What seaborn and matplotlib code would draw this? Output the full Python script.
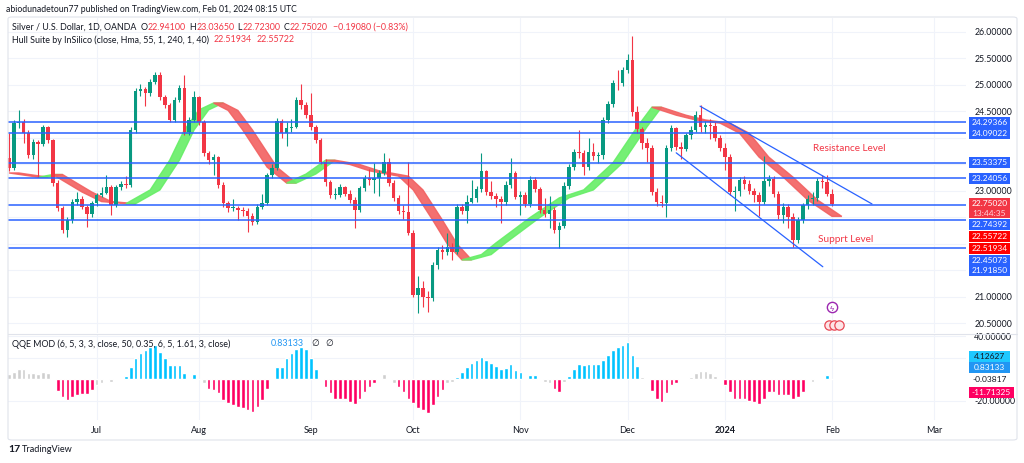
import numpy as np
import pandas as pd
import matplotlib
matplotlib.use("Agg")
import matplotlib.pyplot as plt
from matplotlib.patches import Rectangle, FancyBboxPatch
import seaborn as sns

# XAGUSD daily (OANDA)
first_open = 23.62
closes = [23.43, 24.28, 24.30, 24.09, 23.68, 23.92, 23.88, 24.20, 23.96, 23.15,
          22.68, 22.26, 22.45, 22.79, 22.85, 22.70, 22.57, 22.77, 22.92, 22.97,
          23.08, 22.74, 23.08, 23.13, 23.12, 24.15, 24.89, 24.92, 24.84, 25.06,
          25.19, 24.77, 24.62, 24.34, 24.72, 24.94, 24.11, 24.34, 24.77, 24.30,
          23.71, 23.58, 23.64, 23.11, 22.77, 22.68, 22.68, 22.65, 22.62, 22.53,
          22.42, 22.70, 22.77, 23.30, 23.43, 24.32, 24.09, 24.19, 24.21, 24.72,
          24.62, 24.43, 24.21, 23.96, 23.55, 23.17, 22.92, 22.92, 23.08, 22.95,
          22.83, 22.64, 23.06, 23.24, 23.20, 23.25, 23.34, 23.55, 23.15, 22.87,
          22.62, 22.60, 22.21, 21.04, 21.16, 21.00, 20.98, 21.60, 21.89, 21.85,
          21.95, 21.85, 22.70, 22.62, 22.80, 22.86, 23.04, 23.37, 22.98, 22.90,
          22.85, 22.79, 23.11, 23.34, 22.89, 22.93, 22.75, 23.21, 23.04, 22.64,
          22.56, 22.65, 22.27, 22.34, 23.10, 23.45, 23.74, 23.72, 23.46, 23.73,
          23.66, 23.67, 24.34, 24.64, 25.04, 25.03, 25.28, 25.47, 24.49, 24.17,
          23.91, 23.81, 22.98, 22.79, 22.77, 23.81, 24.19, 23.83, 23.80, 24.05,
          24.16, 24.43, 24.21, 24.25, 24.22, 24.00, 23.81, 23.64, 22.98, 23.00,
          23.21, 23.13, 23.00, 22.92, 22.80, 23.19, 23.23, 22.94, 22.55, 22.70,
          22.51, 22.08, 22.45, 22.73, 22.85, 22.86, 23.19, 23.16, 22.941, 22.7502]
highs = [24.09, 24.34, 24.53, 24.36, 24.16, 23.98, 23.97, 24.24, 24.22, 23.98,
         23.20, 22.72, 22.50, 22.84, 22.98, 22.90, 22.74, 22.82, 22.96, 23.08,
         23.30, 23.12, 23.12, 23.18, 23.28, 24.20, 24.95, 25.02, 24.96, 25.12,
         25.25, 25.25, 24.82, 24.66, 24.78, 25.00, 25.19, 24.40, 24.88, 24.80,
         24.34, 23.76, 23.70, 23.66, 23.16, 22.82, 22.84, 22.72, 22.70, 22.68,
         22.58, 22.76, 22.95, 23.34, 23.50, 24.38, 24.36, 24.30, 24.35, 24.78,
         25.02, 24.68, 24.85, 24.25, 24.00, 23.60, 23.20, 23.06, 23.14, 23.10,
         23.02, 22.88, 23.10, 23.30, 23.42, 23.52, 23.40, 23.72, 23.62, 23.20,
         22.92, 22.74, 23.55, 22.26, 21.40, 21.30, 21.12, 21.66, 21.95, 21.98,
         22.20, 22.02, 22.76, 22.76, 22.92, 23.20, 23.10, 23.72, 23.40, 23.18,
         22.96, 22.90, 23.18, 23.62, 23.38, 23.00, 22.98, 23.28, 23.26, 23.08,
         22.86, 22.90, 22.70, 22.42, 23.16, 23.50, 23.80, 24.15, 23.78, 24.00,
         23.90, 23.74, 24.40, 24.70, 25.10, 25.28, 25.34, 25.58, 25.92, 24.60,
         24.20, 24.00, 23.86, 23.05, 22.92, 23.86, 24.24, 24.20, 23.92, 24.10,
         24.22, 24.50, 24.62, 24.32, 24.36, 24.30, 24.05, 23.90, 23.70, 23.10,
         23.26, 23.28, 23.20, 23.06, 22.98, 23.66, 23.30, 23.28, 23.00, 22.78,
         22.76, 22.58, 22.50, 22.78, 22.92, 22.98, 23.24, 23.30, 23.30, 23.0365]
lows = [23.38, 23.40, 24.18, 23.90, 23.62, 23.60, 23.26, 23.84, 23.90, 23.10,
        22.62, 22.20, 22.13, 22.40, 22.74, 22.66, 22.32, 22.50, 22.72, 22.88,
        22.94, 22.55, 22.70, 23.02, 23.06, 23.08, 24.10, 24.80, 24.60, 24.80,
        25.02, 24.72, 24.56, 24.30, 24.30, 24.68, 24.06, 24.05, 24.30, 24.24,
        23.66, 23.50, 23.30, 23.06, 22.70, 22.60, 22.62, 22.45, 22.52, 22.23,
        22.36, 22.38, 22.66, 22.74, 23.25, 23.40, 24.00, 23.85, 24.12, 24.18,
        24.55, 24.38, 24.16, 23.90, 23.50, 23.10, 22.86, 22.84, 22.88, 22.90,
        22.78, 22.30, 22.60, 23.00, 23.12, 22.96, 22.90, 23.30, 23.10, 22.82,
        22.56, 22.48, 22.16, 21.00, 20.70, 20.82, 20.72, 20.92, 21.52, 21.72,
        21.80, 21.70, 21.82, 22.56, 22.40, 22.78, 22.80, 22.98, 22.92, 22.84,
        22.70, 22.40, 22.74, 23.05, 22.84, 22.54, 22.70, 22.70, 22.98, 22.58,
        22.50, 22.30, 22.20, 21.92, 22.30, 23.04, 23.40, 23.62, 23.30, 23.40,
        23.58, 23.52, 23.60, 24.28, 24.58, 24.90, 24.98, 25.22, 24.42, 24.10,
        23.80, 23.55, 22.92, 22.72, 22.70, 22.50, 23.76, 23.78, 23.60, 23.76,
        23.98, 24.12, 24.12, 24.10, 23.98, 23.95, 23.76, 23.40, 22.92, 22.62,
        22.90, 23.04, 22.94, 22.80, 22.52, 22.76, 23.10, 22.88, 22.48, 22.40,
        22.30, 21.94, 22.02, 22.40, 22.66, 22.74, 22.82, 23.06, 22.90, 22.723]

# horizontal levels drawn on the chart
levels = [24.29366, 24.09022, 23.53375, 23.24056, 22.74392, 22.45073, 21.91850]

# Hull Suite (55) band, read at a set of bars
hull_bars = [0, 6, 9, 15, 19, 24, 29, 33, 36, 39, 42, 45, 48, 53, 57, 61, 65, 70, 74, 80,
             83, 87, 90, 93, 97, 100, 107, 113, 118, 124, 129, 132, 137, 141, 146, 150, 154, 159, 164, 169]
hull_vals = [23.34, 23.26, 23.31, 22.98, 22.80, 22.76, 23.02, 23.58, 24.15, 24.53, 24.66, 24.52,
             24.15, 23.45, 23.15, 23.32, 23.58, 23.50, 23.38, 23.28, 23.02, 22.45, 22.00, 21.70,
             21.80, 22.02, 22.50, 22.87, 23.02, 23.53, 24.21, 24.58, 24.43, 24.34, 24.28, 24.09,
             23.64, 23.26, 22.83, 22.52]

# QQE MOD histogram and its colour state (b = up, r = down, g = neutral)
qqe_vals = [5, 7, 10, 10, 6, 6, 5, 7, 6, 0,
            -10.4, -16, -19, -16, -14.6, -13.6, -13.6, -10, -5, -3.5,
            0, -2, 0, 0, 3.3, 12, 20, 25, 27, 30,
            32, 26, 20, 13, 13, 13.5, 5.6, 0, 5, 0,
            -3, -8.4, -10, -13, -19, -21.7, -24, -26, -27, -28.5,
            -30, -26, -19, -8.4, 0, 12, 12, 20, 25, 28,
            30, 28, 20, 10, 0, -7, -13, -18, -18, -18,
            -21, -23, -18, -11.5, -7, -3.6, 0, 5, 0, -3,
            -7, -11.5, -18, -22, -27, -28, -31, -24, -16, -10,
            -3.5, -2, 2.5, 7, 12, 15, 18, 21, 18, 15.5,
            12.4, 10, 11, 14, 8.7, 7, 0, 4.6, 4.6, 0,
            -2, -3.5, -9.3, -12, -2, 3.4, 10, 14, 13.5, 14,
            14, 14, 18, 23, 27, 30, 32, 34.4, 23, 12.4,
            2, 0, -10.5, -18, -21, -13, -5, -3, 0, 0,
            2.5, 6, 7.5, 7.5, 6, 3, 0, -5, -11.5, -18,
            -18.6, -18.6, -20, -21, -23, -18, -11.5, -11.5, -14.6, -14.6,
            -14.6, -18.6, -16, -11.5, 0, -2, 0, 0, 4.13, 0.83]
qqe_state = ("gggggggggg" "rrrrrrrrgg" "ggggbbbbbb" "bbbbbbbgbg" "grrrrrrrrr"
             "rrrrgbbbbb" "bbbbgrrrrr" "rrrrrrgggg" "rrrrrrrrrr" "ggbbbbbbbb"
             "bbbbbbgbbg" "ggrrgbbbbb" "bbbbbbbbbb" "ggrrrrrrgg" "gggggggrrr"
             "rrrrrrrrrr" "rrrrggggbb")

month_starts = ["2023-07-01", "2023-08-01", "2023-09-01", "2023-10-01", "2023-11-01",
                "2023-12-01", "2024-01-01", "2024-02-01", "2024-03-01"]
month_names = ["Jul", "Aug", "Sep", "Oct", "Nov", "Dec", "2024", "Feb", "Mar"]

# price scale ticks; the ones hidden behind tags get no label
price_ticks = [20.5, 21.0, 21.5, 22.0, 22.5, 23.0, 23.5, 24.0, 24.5, 25.0, 25.5, 26.0]
price_shown = [20.5, 21.0, 23.0, 24.5, 25.0, 25.5, 26.0]

# drawn channel (bar position, price)
res_x, res_y = [141.9, 177.2], [24.60, 22.755]
sup_x, sup_y = [137.0, 167.1], [23.72, 21.57]

# ---------------------------------------------------------------
W, H = 1024, 463
DARK = "#131722"
BLUE = "#2962ff"
RED = "#f23645"

sns.set_theme(style="white")
plt.rcParams["font.family"] = ["Lato", "DejaVu Sans"]

dates = pd.bdate_range("2023-06-07", "2024-03-08")
dates = dates[~dates.isin(pd.to_datetime(["2023-12-25", "2024-01-01"]))]
month_pos = [int(np.searchsorted(dates, pd.Timestamp(m))) for m in month_starts]

n = len(closes)
x = np.arange(n)
c = np.array(closes)
o = np.r_[first_open, c[:-1]]
col = np.where(c >= o, "#089981", RED)

fig = plt.figure(figsize=(W / 100, H / 100), dpi=100)
fig.patch.set_facecolor("white")


def frac_box(l, t, r, b):
    return [l / W, 1 - b / H, (r - l) / W, (b - t) / H]


ax = fig.add_axes(frac_box(8, 18, 966, 333))
ax2 = fig.add_axes(frac_box(8, 334, 966, 420))
xlim = (-0.2, 196.5)

# --- main panel -------------------------------------------------
ax.vlines(x, lows, highs, colors=col, lw=0.8, zorder=3)
ax.bar(x, np.maximum(np.abs(c - o), 0.015), bottom=np.minimum(o, c), width=0.72,
       color=col, lw=0, zorder=4)

hb = np.array(hull_bars, float)
hv = np.array(hull_vals)
d = np.sign(np.diff(hv))
start = 0
for k in range(1, len(d) + 1):
    if k == len(d) or d[k] != d[start]:
        xs, ys = hb[start:k + 1], hv[start:k + 1]
        fc = "#66ee66" if d[start] > 0 else "#f26060"
        ax.fill(np.r_[xs, xs[::-1] + 2], np.r_[ys, ys[::-1]], color=fc, ec=fc,
                lw=1.0, alpha=0.9, zorder=2)
        start = k

ax.hlines(levels, xlim[0], xlim[1], color=BLUE, lw=1.1, zorder=5)
sns.lineplot(x=res_x, y=res_y, ax=ax, color=BLUE, lw=0.9, zorder=5)
sns.lineplot(x=sup_x, y=sup_y, ax=ax, color=BLUE, lw=0.9, zorder=5)
ax.text(165.1, 23.81, "Resistance Level", color=RED, fontsize=7.2, va="center", zorder=6)
ax.text(166.1, 22.08, "Supprt Level", color=RED, fontsize=7.2, va="center", zorder=6)

# small event icons at the last bar
ax.scatter([n - 1], [20.81], s=55, facecolor="white", edgecolor="#9c27b0", lw=1, zorder=6)
ax.text(n - 1, 20.81, "ϟ", color="#9c27b0", fontsize=6, ha="center", va="center", zorder=7)
ax.scatter([n - 1.6, n - 0.6, n + 0.4], [20.47] * 3, s=45, facecolor="#fde4e6",
           edgecolor="#e84855", lw=0.9, zorder=6)

ax.set_xlim(*xlim)
ax.set_ylim(20.32, 26.264)
ax.set_xticks(month_pos)
ax.set_yticks(price_ticks)
ax.yaxis.tick_right()
ax.set_yticklabels([f"{v:.5f}" if v in price_shown else "" for v in price_ticks],
                   fontsize=6.3, color=DARK)
ax.tick_params(axis="y", length=0, pad=6)
ax.tick_params(axis="x", length=0, labelbottom=False)
ax.grid(True, color="#f0f3fa", lw=0.8)
ax.set_xlabel("")
ax.set_ylabel("")
for s in ax.spines.values():
    s.set_visible(False)

# --- QQE panel --------------------------------------------------
qdf = pd.DataFrame({"bar": x, "val": qqe_vals, "state": list(qqe_state)})
sns.barplot(data=qdf, x="bar", y="val", hue="state", native_scale=True, dodge=False,
            palette={"b": "#00c3ff", "r": "#ff0062", "g": "#cfcfcf"}, width=0.75,
            saturation=1, errorbar=None, legend=False, ax=ax2)
ax2.set_xlim(*xlim)
ax2.set_ylim(-37.7, 42.3)
ax2.yaxis.tick_right()
ax2.set_yticks([40, 20, -20])
ax2.set_yticklabels(["40.00000", "", "-20.00000"], fontsize=6.3, color=DARK)
ax2.set_xticks(month_pos)
ax2.set_xticklabels(month_names, fontsize=6.5, color=DARK)
ax2.get_xticklabels()[6].set_fontweight("bold")
ax2.tick_params(axis="y", length=0, pad=6)
ax2.tick_params(axis="x", length=0, pad=4)
ax2.grid(True, color="#f0f3fa", lw=0.8)
ax2.set_axisbelow(True)
ax2.set_xlabel("")
ax2.set_ylabel("")
for s in ax2.spines.values():
    s.set_visible(False)

# --- frame and separators -------------------------------------
fig.patches.append(FancyBboxPatch((8 / W, 1 - 440 / H), 1009 / W, 423 / H,
                                  boxstyle="round,pad=0,rounding_size=0.004",
                                  transform=fig.transFigure, fill=False,
                                  ec="#e0e3eb", lw=0.8, zorder=1))
fig.add_artist(plt.Line2D([8 / W, 1017 / W], [1 - 333.5 / H] * 2, color="#e0e3eb", lw=0.8))


# --- price tags on the right scales ---------------------------
def py_of(axis, v):
    return H - axis.transData.transform((0, v))[1]


def tag(py, text, fc, tc="white", w=41, h=11, x0=969):
    fig.patches.append(Rectangle((x0 / W, 1 - (py + h / 2) / H), w / W, h / H,
                                 transform=fig.transFigure, fc=fc, ec="none", zorder=5))
    fig.text((x0 + w / 2) / W, 1 - py / H, text, ha="center", va="center",
             color=tc, fontsize=6.0, zorder=6)


main_tags = [(24.29366, BLUE, 0), (24.09022, BLUE, 0), (23.53375, BLUE, 0), (23.24056, BLUE, 0),
             (22.74392, BLUE, 20), (22.55722, "#ff0000", 22.5), (22.51934, "#ff0000", 32.5),
             (22.45073, BLUE, 40), (21.91850, BLUE, 22.6)]
for v, fc, nudge in main_tags:
    tag(py_of(ax, v) + nudge, f"{v:.5f}", fc)

# current price with countdown
pc = py_of(ax, 22.75020) + 4
fig.patches.append(Rectangle((969 / W, 1 - (pc + 10) / H), 41 / W, 20 / H,
                             transform=fig.transFigure, fc=RED, ec="none", zorder=5))
fig.text(989.5 / W, 1 - (pc - 4.5) / H, "22.75020", ha="center", va="center",
         color="white", fontsize=6.0, zorder=6)
fig.text(989.5 / W, 1 - (pc + 5) / H, "13:44:35", ha="center", va="center",
         color="#ffd6da", fontsize=6.0, zorder=6)

tag(py_of(ax2, 4.12627) - 19, "4.12627", "#1ec8ff", tc=DARK)
tag(py_of(ax2, 0.83133) - 10.6, "0.83133", "#2196f3")
fig.text(989.5 / W, 1 - py_of(ax2, -0.03817) / H, "-0.03817", ha="center", va="center",
         color=DARK, fontsize=6.0, zorder=6)
tag(py_of(ax2, -11.71325), "-11.71325", "#ff0062", w=45)

# --- header and legends ---------------------------------------
renderer = fig.canvas.get_renderer()


def pieces(px, py, parts, size=6.4):
    for txt, color, gap in parts:
        t = fig.text(px / W, 1 - py / H, txt, color=color, fontsize=size, va="center", ha="left")
        px += t.get_window_extent(renderer).width + gap


fig.text(6 / W, 1 - 10 / H, "abiodunadetoun77 published on TradingView.com, Feb 01, 2024 08:15 UTC",
         fontsize=6.2, color=DARK, va="center")
pieces(12, 27, [("Silver / U.S. Dollar, 1D, OANDA", DARK, 4),
                ("O", DARK, 0.5), ("22.94100", RED, 3), ("H", DARK, 0.5), ("23.03650", RED, 3),
                ("L", DARK, 0.5), ("22.72300", RED, 3), ("C", DARK, 0.5), ("22.75020", RED, 5),
                ("−0.19080 (−0.83%)", RED, 0)])
pieces(12, 40, [("Hull Suite by InSilico (close, Hma, 55, 1, 240, 1, 40)", DARK, 5),
                ("22.51934", RED, 4), ("22.55722", RED, 0)])
pieces(12, 344, [("QQE MOD (6, 5, 3, 3, close, 50, 0.35, 6, 5, 1.61, 3, close)", DARK, 40),
                 ("0.83133", "#2196f3", 8), ("∅", DARK, 6), ("∅", DARK, 0)])
pieces(8, 450, [("17", DARK, 2)], size=7.5)
fig.texts[-1].set_fontweight("bold")
pieces(22, 450, [("TradingView", DARK, 0)], size=6.6)

fig.savefig("out.png", dpi=100, facecolor="white")
